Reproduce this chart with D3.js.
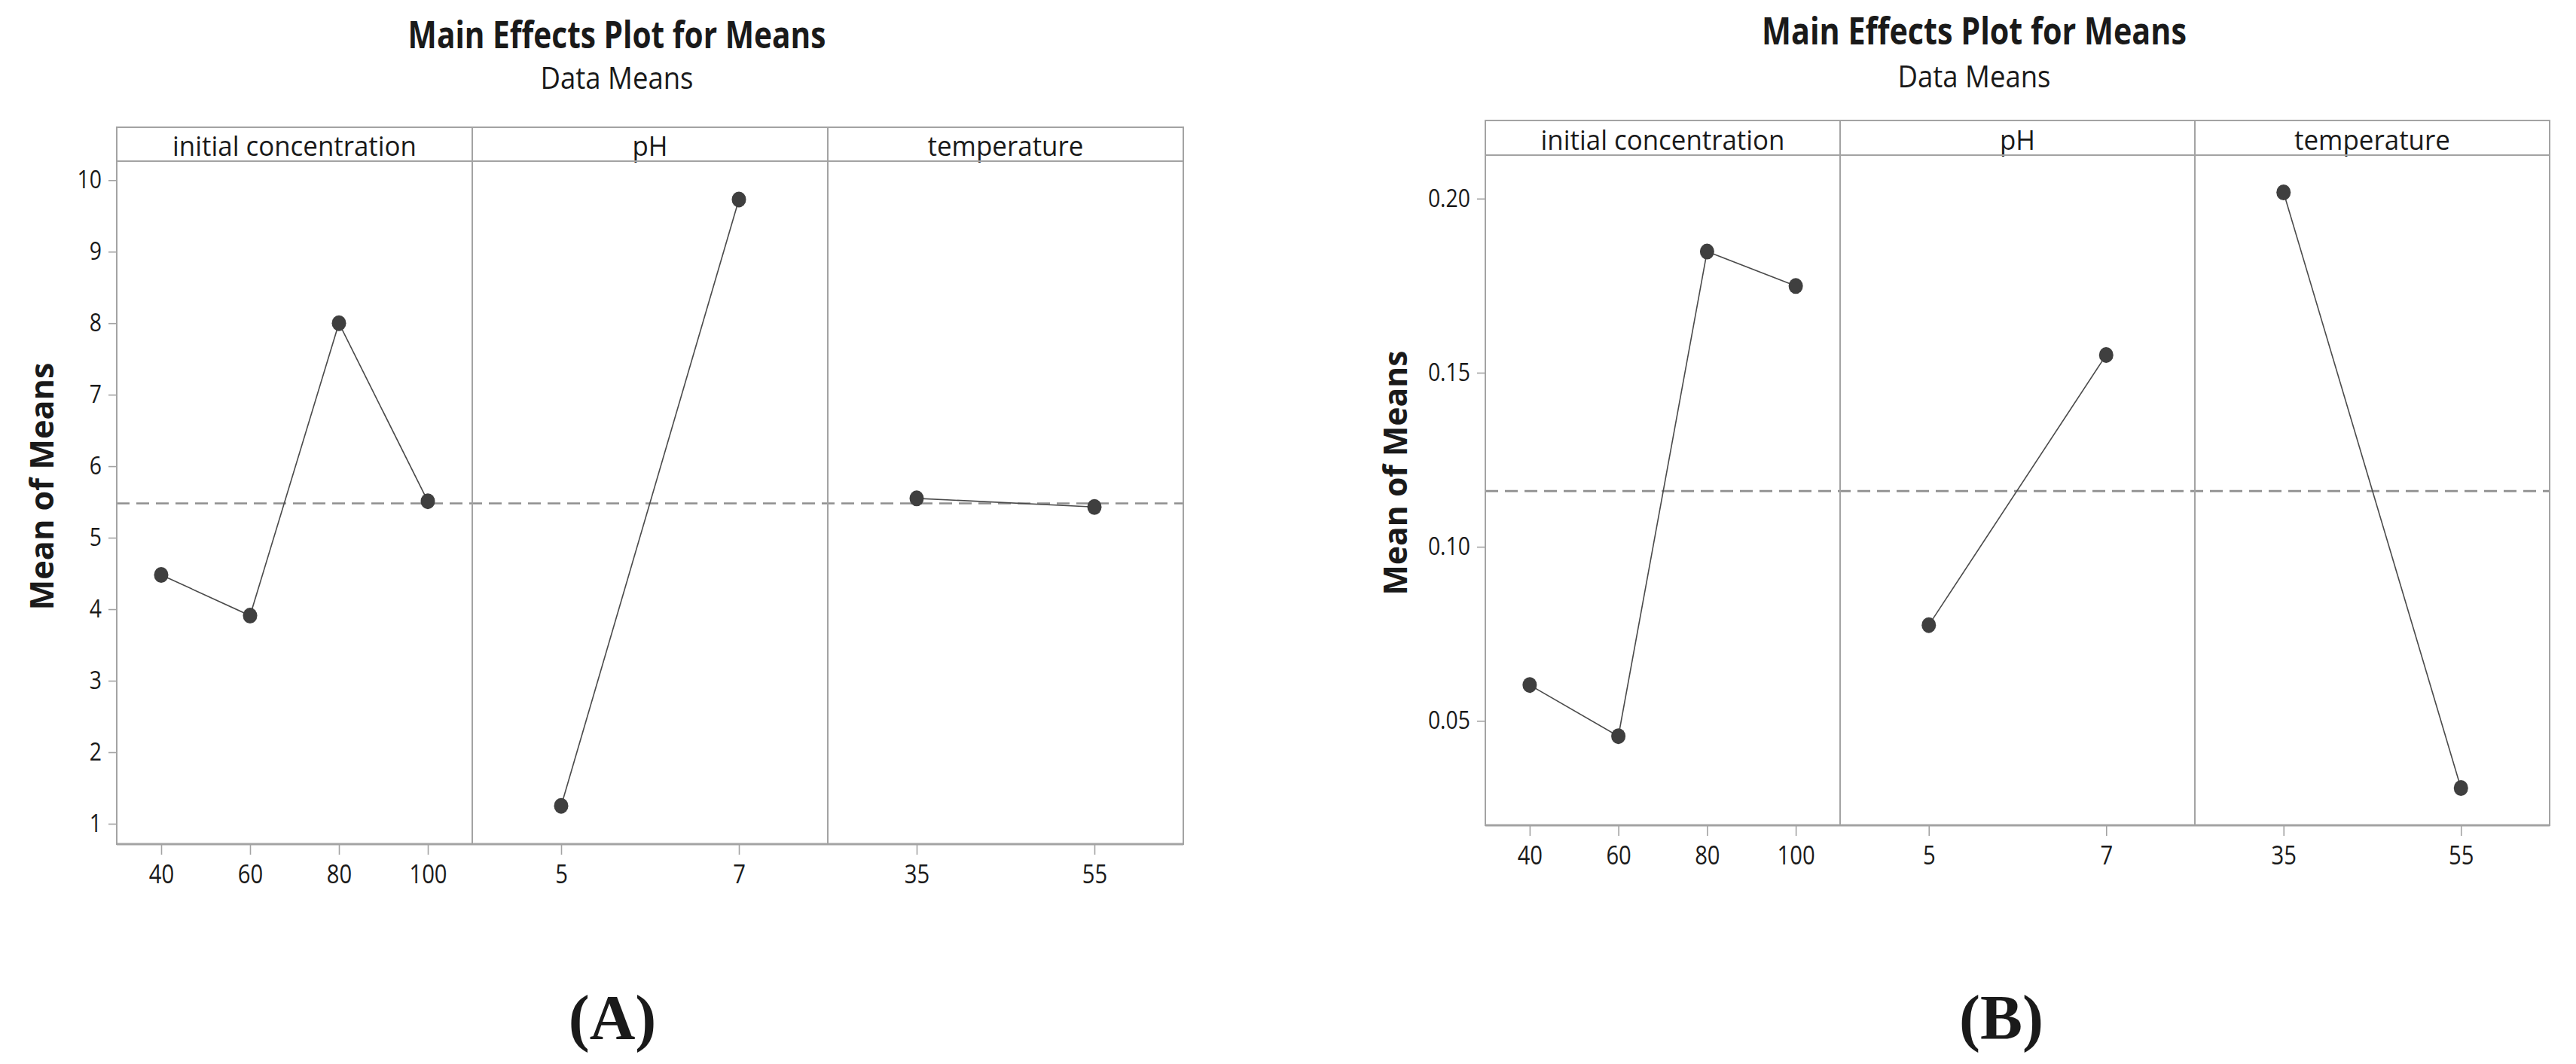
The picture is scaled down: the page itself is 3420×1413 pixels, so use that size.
<!DOCTYPE html>
<html>
<head>
<meta charset="utf-8">
<script src="https://cdn.jsdelivr.net/npm/d3@7"></script>
<style>
  html, body { margin: 0; padding: 0; background: #ffffff; }
  svg { display: block; }
  text { font-family: "Open Sans", "Noto Sans", sans-serif; fill: #1a1a1a; }
</style>
</head>
<body>
<svg id="chart" width="3420" height="1413"></svg>
<script>
// ---------------- DATA ----------------
const factors = ["initial concentration", "pH", "temperature"];
const levelsConc = ["40", "60", "80", "100"];
const levelsPH = ["5", "7"];
const levelsTemp = ["35", "55"];

// Plot (A)
const meansA_conc = [4.48, 3.91, 8.00, 5.51];
const meansA_pH = [1.25, 9.73];
const meansA_temp = [5.55, 5.43];
const grandMeanA = 5.48;
const yTicksA = [1, 2, 3, 4, 5, 6, 7, 8, 9, 10];
const yTickLabelsA = ["1", "2", "3", "4", "5", "6", "7", "8", "9", "10"];

// Plot (B)
const meansB_conc = [0.0603, 0.0456, 0.1848, 0.1749];
const meansB_pH = [0.0775, 0.1551];
const meansB_temp = [0.2018, 0.0307];
const grandMeanB = 0.1160;
const yTicksB = [0.05, 0.10, 0.15, 0.20];
const yTickLabelsB = ["0.05", "0.10", "0.15", "0.20"];

const titleText = "Main Effects Plot for Means";
const subtitleText = "Data Means";
const yLabelText = "Mean of Means";
const panelTags = ["(A)", "(B)"];

// ---------------- LAYOUT / STYLE ----------------
const layouts = [
  { left: 155, right: 1571, headTop: 169, headBot: 214, bottom: 1121, yDomain: [0.715, 10.266],
    titleX: 819, titleY: 64, subY: 118, titleW: 555, subW: 203, yLabX: 71, yLabY: 646, yLabW: 329,
    tagX: 813, tagY: 1380 },
  { left: 1972, right: 3385, headTop: 160, headBot: 206, bottom: 1096, yDomain: [0.0200, 0.2125],
    titleX: 2621, titleY: 59, subY: 116, titleW: 564, subW: 203, yLabX: 1868, yLabY: 628, yLabW: 325,
    tagX: 2657, tagY: 1380 }
];
const headerWidths = [324, 47, 207];
const frameColor = "#a3a3a3";
const pointColor = "#3f3f3f";
const lineColor = "#4a4a4a";
const meanColor = "#8f8f8f";
const tickSqueeze = 0.86;

const svg = d3.select("#chart");

function fitText(sel, target) {
  const w = sel.node().getComputedTextLength();
  return w > 0 ? target / w : 1;
}

function addText(g, x, y, str, opts, targetW) {
  const t = g.append("text")
    .attr("text-anchor", opts.anchor || "middle")
    .style("font-size", opts.size + "px")
    .style("font-weight", opts.weight || 400)
    .style("font-family", opts.family || null)
    .text(str);
  const s = targetW ? fitText(t, targetW) : (opts.squeeze || 1);
  t.attr("transform", `translate(${x},${y})${opts.rotate ? " rotate(" + opts.rotate + ")" : ""} scale(${s},1)`);
  return t;
}

function drawChart(L, data, yTicks, yTickLabels, grandMean, tag) {
  const g = svg.append("g");
  const y = d3.scaleLinear().domain(L.yDomain).range([L.bottom, L.headBot]);
  const panelW = (L.right - L.left) / factors.length;

  // Title / subtitle
  addText(g, L.titleX, L.titleY, titleText, { size: 50, weight: 700 }, L.titleW);
  addText(g, L.titleX, L.subY, subtitleText, { size: 41 }, L.subW);

  // Y label
  addText(g, L.yLabX, L.yLabY, yLabelText, { size: 43, weight: 700, rotate: -90 }, L.yLabW);

  const pointLayer = g.append("g");
  const lineLayer = g.insert("g", ":first-child");

  // Panels
  data.forEach((d, i) => {
    const x0 = L.left + i * panelW, x1 = x0 + panelW;
    const x = d3.scalePoint().domain(d.levels).range([x0, x1]).padding(0.5);

    // header text
    addText(g, (x0 + x1) / 2, L.headBot - 7, factors[i], { size: 36 }, headerWidths[i]);

    // x axis
    const ax = g.append("g").attr("transform", `translate(0,${L.bottom})`)
      .call(d3.axisBottom(x).tickSize(14).tickPadding(14).tickSizeOuter(0));
    ax.select(".domain").remove();
    ax.selectAll(".tick line").attr("stroke", frameColor).attr("stroke-width", 1.6);
    ax.selectAll(".tick text")
      .style("font-size", "34px").style("font-family", "Open Sans").attr("fill", "#2a2a2a")
      .attr("transform", `scale(${tickSqueeze},1)`);

    // connecting line + points
    const pts = d.levels.map((lv, k) => [x(lv), y(d.values[k])]);
    lineLayer.append("path")
      .attr("d", d3.line()(pts))
      .attr("fill", "none").attr("stroke", lineColor).attr("stroke-width", 1.6);
    pointLayer.selectAll(null).data(pts).enter().append("ellipse")
      .attr("cx", p => p[0]).attr("cy", p => p[1])
      .attr("rx", 9.5).attr("ry", 10.5)
      .attr("fill", pointColor);
  });

  // Grand mean reference line (below lines/points)
  g.insert("line", ":first-child")
    .attr("x1", L.left).attr("x2", L.right)
    .attr("y1", y(grandMean)).attr("y2", y(grandMean))
    .attr("stroke", meanColor).attr("stroke-width", 2.6)
    .attr("stroke-dasharray", "17,9");

  // Frame
  g.append("rect")
    .attr("x", L.left).attr("y", L.headTop)
    .attr("width", L.right - L.left).attr("height", L.bottom - L.headTop)
    .attr("fill", "none").attr("stroke", frameColor).attr("stroke-width", 2);
  g.append("line").attr("x1", L.left).attr("x2", L.right)
    .attr("y1", L.headBot).attr("y2", L.headBot)
    .attr("stroke", frameColor).attr("stroke-width", 2);
  g.append("line").attr("x1", L.left).attr("x2", L.right)
    .attr("y1", L.bottom).attr("y2", L.bottom)
    .attr("stroke", frameColor).attr("stroke-width", 3);
  for (let i = 1; i < factors.length; i++) {
    const xx = L.left + i * panelW;
    g.append("line").attr("x1", xx).attr("x2", xx)
      .attr("y1", L.headTop).attr("y2", L.bottom)
      .attr("stroke", frameColor).attr("stroke-width", 2);
  }
  pointLayer.raise();

  // Y axis
  const ay = g.append("g").attr("transform", `translate(${L.left},0)`)
    .call(d3.axisLeft(y).tickValues(yTicks).tickFormat((v, k) => yTickLabels[k])
      .tickSize(11).tickPadding(9).tickSizeOuter(0));
  ay.select(".domain").remove();
  ay.selectAll(".tick line").attr("stroke", frameColor).attr("stroke-width", 1.6);
  ay.selectAll(".tick text")
    .style("font-size", "33px").style("font-family", "Open Sans").attr("fill", "#2a2a2a")
    .attr("x", -20 / tickSqueeze)
    .attr("transform", `scale(${tickSqueeze},1)`);

  // Panel tag
  addText(g, L.tagX, L.tagY, tag, { size: 84, weight: 700, family: "'Liberation Serif', 'Times New Roman', serif" });
}

drawChart(layouts[0], [
  { levels: levelsConc, values: meansA_conc },
  { levels: levelsPH, values: meansA_pH },
  { levels: levelsTemp, values: meansA_temp }
], yTicksA, yTickLabelsA, grandMeanA, panelTags[0]);

drawChart(layouts[1], [
  { levels: levelsConc, values: meansB_conc },
  { levels: levelsPH, values: meansB_pH },
  { levels: levelsTemp, values: meansB_temp }
], yTicksB, yTickLabelsB, grandMeanB, panelTags[1]);
</script>
</body>
</html>
